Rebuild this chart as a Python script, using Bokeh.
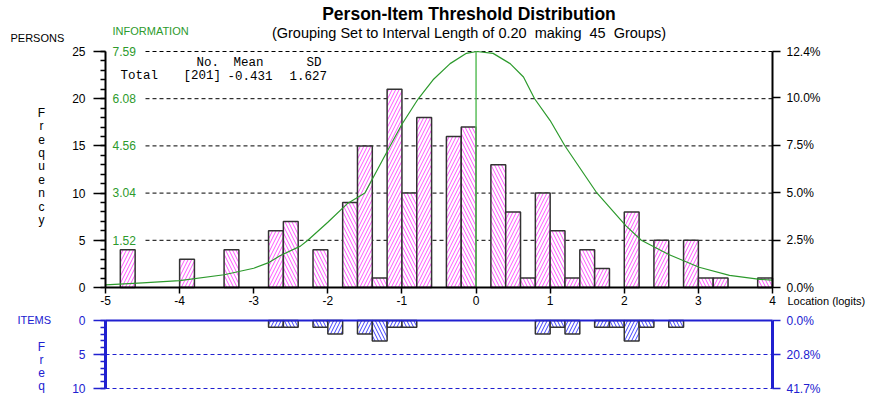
from bokeh.plotting import figure
from bokeh.models import Range1d, LinearAxis, FixedTicker, NumeralTickFormatter, Label, ColumnDataSource
from bokeh.layouts import column
from bokeh.core.properties import value
from bokeh.embed import file_html
from bokeh.resources import INLINE

# ---------------- data ----------------
title_text = "Person-Item Threshold Distribution"
subtitle_text = "(Grouping Set to Interval Length of 0.20\u00a0 making\u00a0 45\u00a0 Groups)"
bin_width = 0.2
x_min, x_max = -5, 4
x_ticks = [-5, -4, -3, -2, -1, 0, 1, 2, 3, 4]

person_bin_left = [-4.8, -4.0, -3.4, -2.8, -2.6, -2.2, -1.8, -1.6, -1.4, -1.2, -1.0, -0.8, -0.4, -0.2,
                   0.2, 0.4, 0.6, 0.8, 1.0, 1.2, 1.4, 1.6, 2.0, 2.4, 2.8, 3.0, 3.2, 3.8]
person_counts = [4, 3, 4, 6, 7, 4, 9, 15, 1, 21, 10, 18, 16, 17,
                 13, 8, 1, 10, 6, 1, 4, 2, 8, 5, 5, 1, 1, 1]

item_bin_left = [-2.8, -2.6, -2.2, -2.0, -1.6, -1.4, -1.2, -1.0, 0.8, 1.0, 1.2, 1.6, 1.8, 2.0, 2.2, 2.6]
item_counts = [1, 1, 1, 2, 2, 3, 1, 1, 2, 1, 2, 1, 1, 3, 1, 1]

person_max = 25
person_ticks = [0, 5, 10, 15, 20, 25]
person_grid = [5, 10, 15, 20, 25]
info_ticks = [1.52, 3.04, 4.56, 6.08, 7.59]
info_max = 7.59
pct_ticks = [0.0, 2.5, 5.0, 7.5, 10.0]
item_max = 10
item_ticks = [0, 5, 10]
item_grid = [5, 10]
item_mean = 0.0

# test information function (logits, information)
info_x = [-5.0, -4.5, -4.0, -3.4, -3.0, -2.79, -2.64, -2.37, -2.27, -2.0, -1.74, -1.5, -1.16, -1.0,
          -0.78, -0.58, -0.35, -0.13, 0.01, 0.23, 0.46, 0.64, 0.79, 1.0, 1.2, 1.63, 2.02, 2.23,
          2.6, 3.01, 3.42, 3.83, 4.0]
info_y = [0.085, 0.15, 0.22, 0.41, 0.62, 0.81, 1.03, 1.33, 1.52, 2.1, 2.69, 3.04, 4.55, 5.25,
          6.07, 6.68, 7.2, 7.53, 7.59, 7.53, 7.2, 6.77, 6.07, 5.37, 4.55, 3.04, 1.99, 1.52,
          1.06, 0.65, 0.39, 0.26, 0.24]

stats_header = ["No.", "Mean", "SD"]
stats_row_label = "Total"
stats_values = ["[201]", "-0.431", "1.627"]

# ---------------- styles / placement ----------------
SANS = "Liberation Sans"
MONO = "Liberation Mono"
GREEN = "#2c9a2c"
BLUE = "#2020d0"
MAGENTA = "#ff55ff"
HBLUE = "#4040ff"

W = 874
H1, H2 = 310, 88
PAGE = 0
FRAME_L, FRAME_R = 105, 772          # page px of x_min / x_max
PXU = (FRAME_R - FRAME_L) / float(x_max - x_min)
TOP1, BOT1 = 51, 287                 # page px of person_max / 0
PYU1 = (BOT1 - TOP1) / float(person_max)
TOP2, BOT2 = 320, 388                # page px of 0 / item_max (items panel)
PYU2 = (BOT2 - TOP2) / float(item_max)


def X(px):
    return x_min + (px - FRAME_L) / PXU


def Y1(py):
    return (BOT1 - py) / PYU1


def Y2(py):
    return (py - TOP2) / PYU2


n_person = sum(person_counts)
n_item = sum(item_counts)

x_lo = X(PAGE)
x_hi = X(PAGE + W)
y1_lo = Y1(PAGE + H1)
y1_hi = Y1(PAGE)
y2_top = Y2(PAGE + H1)
y2_bot = Y2(PAGE + H1 + H2)


def pattern(left):
    idx = int(round((left - x_min) / bin_width))
    return "right_diagonal_line" if idx % 2 == 1 else "left_diagonal_line"


def lab(fig, text, x, y, color="black", size="11px", align="left", baseline="middle", style="normal", lh=1.2,
        font=SANS):
    fig.add_layout(Label(x=x, y=y, text=text, text_color=color, text_font_size=size, text_align=align,
                         text_baseline=baseline, text_font_style=style, text_line_height=lh,
                         text_font=font))


# ---------------- main panel ----------------
p1 = figure(width=W, height=H1, min_border=0,
            x_range=Range1d(x_lo, x_hi), y_range=Range1d(y1_lo, y1_hi),
            x_axis_location=None, y_axis_location=None,
            output_backend="svg", toolbar_location=None,
            outline_line_color=None, background_fill_color="white", border_fill_color="white")
p1.grid.visible = False
k_info = info_max / person_max
k_pct = 1.0 / n_person
p1.extra_y_ranges = {"info": Range1d(y1_lo * k_info, y1_hi * k_info),
                     "pct": Range1d(y1_lo * k_pct, y1_hi * k_pct)}

# dashed grid
p1.segment(x0=[X(145)] * len(person_grid), x1=[x_max] * len(person_grid), y0=person_grid, y1=person_grid,
           line_color="black", line_dash="4 3", line_width=1)

src_p = ColumnDataSource(dict(
    left=person_bin_left,
    right=[l + bin_width for l in person_bin_left],
    top=person_counts,
    hatch=[pattern(l) for l in person_bin_left]))
p1.quad(left="left", right="right", bottom=0, top="top", source=src_p,
        fill_color="white", line_color="#333333", line_width=1.5,
        hatch_pattern="hatch", hatch_color=MAGENTA, hatch_scale=7, hatch_weight=1)

p1.line(info_x, info_y, y_range_name="info", line_color=GREEN, line_width=1.2)
p1.segment(x0=[item_mean], x1=[item_mean], y0=[0], y1=[info_max], y_range_name="info",
           line_color="#5cbf5c", line_width=1.5)

ax_l = LinearAxis(fixed_location=x_min, bounds=(0, person_max),
                  ticker=FixedTicker(ticks=person_ticks, minor_ticks=list(range(0, person_max + 1))),
                  axis_line_width=2, axis_line_color="black",
                  major_tick_out=12, major_tick_in=0, minor_tick_out=5, minor_tick_in=0,
                  major_tick_line_width=1.5, minor_tick_line_width=1.5,
                  major_label_standoff=8, major_label_text_font=SANS,
                  major_label_text_font_size="12px", major_label_text_color="black")
p1.add_layout(ax_l, "left")

ax_r = LinearAxis(y_range_name="pct", fixed_location=x_max, bounds=(0, person_max * k_pct),
                  ticker=FixedTicker(ticks=[t / 100.0 for t in pct_ticks] + [person_max * k_pct], minor_ticks=[]),
                  formatter=NumeralTickFormatter(format="0.0%"),
                  axis_line_width=2, axis_line_color="black",
                  major_tick_out=8, major_tick_in=0, major_tick_line_width=1.5,
                  major_label_standoff=6, major_label_text_font=SANS,
                  major_label_text_font_size="12px", major_label_text_color="black")
p1.add_layout(ax_r, "right")

ax_b = LinearAxis(fixed_location=0, bounds=(x_min, x_max),
                  ticker=FixedTicker(ticks=x_ticks, minor_ticks=[]),
                  major_label_overrides={t: str(t) for t in x_ticks},
                  axis_line_width=2, axis_line_color="black",
                  major_tick_out=6, major_tick_in=0, major_tick_line_width=1.5,
                  major_label_standoff=2, major_label_text_font=SANS,
                  major_label_text_font_size="12px", major_label_text_color="black")
p1.add_layout(ax_b, "below")

p1.text(x=[X(112)] * len(info_ticks), y=info_ticks, text=[f"{t:.2f}" for t in info_ticks],
        y_range_name="info", text_font=value(SANS), text_font_size="12px",
        text_color=GREEN, text_align="left", text_baseline="middle")

# stats box
hdr_x = [X(196), X(233), X(306)]
val_x = [X(183), X(227), X(289)]
p1.text(x=hdr_x, y=[Y1(62)] * 3, text=stats_header, text_font=value(MONO), text_font_size="12.5px",
        text_color="black", text_align="left", text_baseline="middle")
p1.text(x=[X(120)] + val_x, y=[Y1(75)] * 4, text=[stats_row_label] + stats_values,
        text_font=value(MONO), text_font_size="12.5px",
        text_color="black", text_align="left", text_baseline="middle")

lab(p1, title_text, X(468.5), Y1(13.5), size="17.5px", align="center", style="bold")
lab(p1, subtitle_text, X(468.5), Y1(32), size="14.5px", align="center")
lab(p1, "PERSONS", X(10), Y1(37))
lab(p1, "INFORMATION", X(112), Y1(30), color=GREEN)
lab(p1, "F\nr\ne\nq\nu\ne\nn\nc\ny", X(41), Y1(166), size="12px", align="center", lh=0.96)
lab(p1, "Location (logits)", X(787), Y1(300))

# ---------------- items panel ----------------
p2 = figure(width=W, height=H2, min_border=0,
            x_range=p1.x_range, y_range=Range1d(y2_bot, y2_top),
            x_axis_location=None, y_axis_location=None,
            output_backend="svg", toolbar_location=None,
            outline_line_color=None, background_fill_color="white", border_fill_color="white")
p2.grid.visible = False
k_ipct = 1.0 / n_item
p2.extra_y_ranges = {"ipct": Range1d(y2_bot * k_ipct, y2_top * k_ipct)}

p2.segment(x0=[x_min] * len(item_grid), x1=[x_max] * len(item_grid), y0=item_grid, y1=item_grid,
           line_color=BLUE, line_dash="4 3", line_width=1)

src_i = ColumnDataSource(dict(
    left=item_bin_left,
    right=[l + bin_width for l in item_bin_left],
    top=item_counts,
    hatch=[pattern(l) for l in item_bin_left]))
p2.quad(left="left", right="right", bottom=0, top="top", source=src_i,
        fill_color="white", line_color="#333333", line_width=1.5,
        hatch_pattern="hatch", hatch_color=HBLUE, hatch_scale=7, hatch_weight=1)

ax2_t = LinearAxis(fixed_location=0, bounds=(x_min, x_max),
                   ticker=FixedTicker(ticks=[], minor_ticks=[]),
                   axis_line_width=2, axis_line_color=BLUE,
                   major_tick_line_color=None, minor_tick_line_color=None,
                   major_label_text_font_size="0px")
p2.add_layout(ax2_t, "above")

ax2_l = LinearAxis(fixed_location=x_min, bounds=(0, item_max),
                   ticker=FixedTicker(ticks=item_ticks, minor_ticks=list(range(0, item_max + 1))),
                   axis_line_width=3, axis_line_color=BLUE,
                   major_tick_out=12, major_tick_in=0, minor_tick_out=5, minor_tick_in=0,
                   major_tick_line_color=BLUE, minor_tick_line_color=BLUE,
                   major_tick_line_width=1.5, minor_tick_line_width=1.5,
                   major_label_standoff=8, major_label_text_font=SANS,
                   major_label_text_font_size="12px", major_label_text_color=BLUE)
p2.add_layout(ax2_l, "left")

ax2_r = LinearAxis(y_range_name="ipct", fixed_location=x_max, bounds=(0, item_max * k_ipct),
                   ticker=FixedTicker(ticks=[t * k_ipct for t in item_ticks], minor_ticks=[]),
                   formatter=NumeralTickFormatter(format="0.0%"),
                   axis_line_width=3, axis_line_color=BLUE,
                   major_tick_out=8, major_tick_in=0, major_tick_line_color=BLUE, major_tick_line_width=1.5,
                   major_label_standoff=6, major_label_text_font=SANS,
                   major_label_text_font_size="12px", major_label_text_color=BLUE)
p2.add_layout(ax2_r, "right")

lab(p2, "ITEMS", X(17), Y2(319), color=BLUE)
lab(p2, "F\nr\ne\nq", X(41), Y2(366), color=BLUE, size="12px", align="center", lh=0.94)

layout = column(p1, p2)
open("out.html", "w").write(file_html(layout, INLINE))
